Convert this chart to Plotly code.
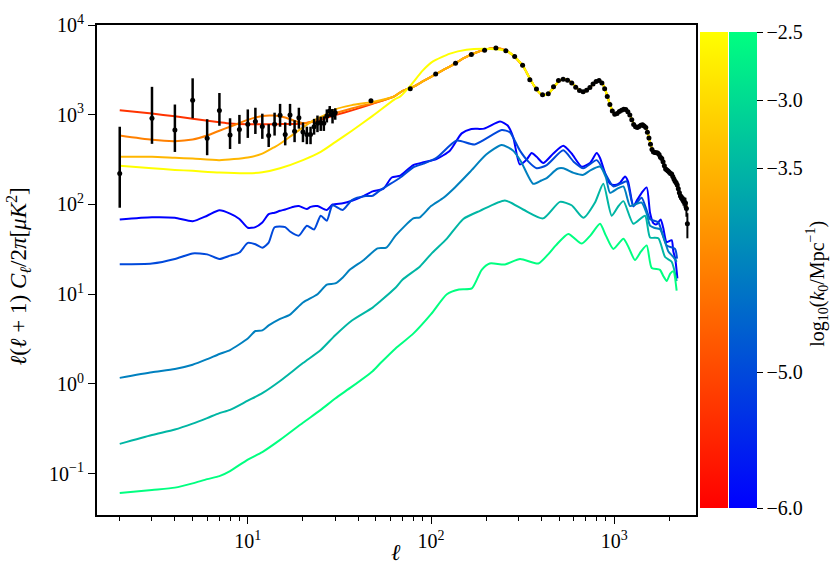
import plotly.graph_objects as go

SERIF = "Liberation Serif, Times New Roman, serif"

# ---------------- measured TT band powers ----------------
# low-l points with asymmetric errors (upper / lower bounds)
lowl_ell = [2, 3, 4, 5, 6, 7, 8, 9, 10, 11, 12, 13, 14, 15, 16, 17, 18, 19, 20,
            21, 22, 23, 24, 25, 26, 27, 28, 29, 30]
lowl_val = [221, 914, 675, 1452, 548, 1117, 595, 683, 785, 841, 741, 586, 785, 984,
            601, 996, 653, 923, 642, 601, 601, 735, 806, 820, 806, 971, 1101, 996, 1054]
lowl_hi = [735, 2046, 1300, 2547, 891, 1746, 914, 996, 1146, 1197, 1028, 785, 1054,
           1321, 820, 1321, 869, 1197, 820, 735, 735, 900, 980, 950, 960, 1146, 1250,
           1160, 1180]
lowl_lo = [92, 474, 385, 914, 354, 754, 415, 474, 552, 611, 539, 437, 586, 735, 456,
           754, 495, 700, 495, 470, 470, 600, 640, 660, 660, 820, 950, 800, 880]

# binned high-l points
bin_ell = [47, 77, 106, 136, 166, 196, 226, 256, 286, 316, 346, 376, 406, 436, 466,
           496, 526, 556, 586, 616, 646, 676, 706, 736, 766, 796, 826, 856, 886, 916,
           946, 976, 1006, 1036, 1066, 1096, 1126, 1156, 1186, 1216, 1246, 1276, 1306,
           1336, 1366, 1396, 1426, 1456, 1486, 1516, 1546, 1576, 1606, 1636, 1666,
           1696, 1726, 1756, 1786, 1816, 1846, 1876, 1906, 1936, 1966, 1996, 2026,
           2056, 2086, 2116, 2146, 2176, 2206, 2236, 2266, 2296, 2326, 2356, 2386,
           2416, 2446, 2476, 2506]
bin_val = [1436, 1945, 2838, 3743, 4697, 5248, 5560, 5150, 4467, 3550, 2450, 1930,
           1672, 1714, 2050, 2400, 2483, 2420, 2260, 2020, 1860, 1800, 1870, 2014,
           2200, 2340, 2404, 2260, 1950, 1600, 1300, 1100, 1010, 1030, 1090, 1120,
           1150, 1146, 1080, 995, 880, 780, 735, 722, 740, 765, 772, 750, 722, 640,
           550, 470, 410, 385, 380, 378, 375, 360, 335, 325, 300, 270, 248, 243, 236,
           228, 221, 219, 205, 192, 182, 175, 165, 150, 135, 124, 119, 115, 110, 106,
           104, 90, 61]
bin_err = [60, 55, 50, 50, 55, 60, 60, 55, 50, 45, 35, 30, 28, 28, 30, 32, 33, 32,
           30, 28, 25, 24, 25, 26, 28, 29, 30, 28, 25, 22, 18, 16, 15, 15, 15, 15, 15,
           15, 14, 13, 12, 11, 10, 10, 10, 10, 10, 10, 10, 9, 8, 8, 7, 7, 7, 7, 7, 7,
           7, 7, 7, 7, 7, 7, 7, 7, 8, 8, 8, 8, 9, 9, 10, 10, 10, 11, 11, 12, 13, 14,
           15, 17, 19]

# ---------------- model spectra ----------------
KMIN, KMAX = -6.0, -2.5

# common acoustic tail shared by the autumn-coloured models
tail_ell = [70, 80, 90, 100, 115, 130, 150, 175, 200, 220, 240, 260, 280, 300, 320,
            340, 360, 380, 400, 420, 440, 470, 500, 530, 560, 590, 620, 650, 680, 710,
            740, 770, 800, 830, 860, 890, 920, 950, 980, 1010, 1040, 1070, 1100, 1130,
            1160, 1190, 1220, 1250, 1280, 1310, 1340, 1370, 1400, 1430, 1460, 1490,
            1520, 1550, 1580, 1610, 1640, 1670, 1700, 1730, 1760, 1790, 1820, 1850,
            1880, 1910, 1940, 1970, 2000, 2040, 2080, 2120, 2160, 2200, 2240, 2280,
            2320, 2360, 2400, 2450, 2500]
tail_val = [1850, 2050, 2350, 2650, 3100, 3550, 4250, 4900, 5350, 5500, 5450, 5100,
            4600, 4000, 3400, 2700, 2200, 1870, 1690, 1660, 1740, 2050, 2380, 2480,
            2420, 2250, 2020, 1850, 1790, 1870, 2030, 2220, 2360, 2400, 2250, 1930,
            1570, 1280, 1090, 1005, 1030, 1090, 1125, 1150, 1145, 1080, 990, 870, 780,
            732, 722, 740, 765, 772, 748, 715, 635, 545, 465, 408, 384, 380, 377, 373,
            358, 335, 322, 298, 268, 247, 240, 234, 227, 219, 206, 190, 178, 164, 148,
            131, 119, 113, 107, 101, 90]

# low-l parts of the autumn-coloured models
aut_k0 = [-5.3, -4.25, -3.5, -2.5]
aut_ell = [
    [2, 3, 4, 5, 7, 8, 10, 12, 15, 20, 25, 30, 37, 48, 63],
    [2, 3, 4, 5, 6, 7, 8, 10, 12, 14, 16, 18, 20, 23, 28, 33, 40, 48, 63],
    [2, 3, 4, 5, 7, 10, 12, 14, 15, 18, 20, 23, 28, 30, 37, 48, 63],
    [2, 3, 4, 5, 7, 10, 12, 15, 20, 25, 30, 37, 48, 63, 68, 77, 90, 102, 127, 156,
     192, 228, 260, 287],
]
aut_val = [
    [1120, 1030, 960, 900, 825, 800, 786, 786, 786, 800, 880, 990, 1119, 1322, 1603],
    [586, 525, 508, 529, 586, 664, 735, 877, 971, 978, 930, 855, 806, 855, 995, 1100,
     1230, 1340, 1600],
    [340, 340, 331, 325, 312, 334, 369, 437, 475, 621, 722, 869, 1054, 1148, 1280,
     1391, 1603],
    [270, 253, 243, 237, 227, 223, 228, 253, 312, 385, 495, 664, 971, 1475, 1603,
     2100, 3100, 3900, 4800, 5300, 5450, 5350, 5100, 4400],
]

# winter-coloured models
win_k0 = [-6.0, -5.0, -4.25, -3.5, -2.5]
win_ell = [
    [2, 3, 4, 5, 6, 7, 8, 9, 10, 11, 12, 13, 14, 15, 16, 18, 19, 21, 22, 24, 27, 29,
     33, 37, 43, 48, 55, 61, 68, 80, 91, 107, 127, 147, 166, 195, 238, 262, 281, 305,
     332, 354, 377, 410, 465, 527, 585, 664, 737, 802, 836, 890, 948, 1010, 1075,
     1145, 1190, 1271, 1325, 1411, 1503, 1567, 1634, 1700, 1791, 1850, 1932, 2057,
     2100, 2150, 2210],
    [2, 3, 4, 5, 6, 7, 8, 9, 10, 11, 12, 13, 14, 16, 17, 19, 21, 23, 25, 27, 29, 33,
     37, 44, 48, 52, 57, 68, 80, 91, 107, 138, 173, 243, 269, 305, 340, 377, 428, 527,
     600, 678, 802, 890, 988, 1080, 1169, 1271, 1410, 1567, 1740, 1932, 2145, 2200],
    [2, 3, 4, 5, 6, 7, 8, 10, 11, 12, 13, 15, 17, 20, 24, 27, 30, 33, 36, 43, 51, 57,
     64, 80, 87, 100, 117, 135, 163, 200, 243, 280, 310, 361, 400, 428, 490, 527, 600,
     678, 740, 836, 900, 948, 1040, 1122, 1219, 1300, 1410, 1500, 1567, 1650, 1777,
     1880, 1974, 2100, 2190],
    [2, 3, 4, 5, 6, 7, 8, 10, 12, 15, 20, 25, 30, 37, 48, 53, 64, 70, 87, 100, 122,
     150, 185, 253, 318, 409, 505, 585, 678, 785, 871, 968, 1050, 1122, 1271, 1472,
     1567, 1740, 1893, 2057, 2190],
    [2, 3, 4, 5, 6, 7, 8, 10, 12, 15, 20, 25, 30, 37, 48, 53, 64, 80, 100, 122, 142,
     167, 189, 209, 253, 306, 385, 437, 480, 561, 664, 740, 836, 900, 988, 1122, 1200,
     1297, 1400, 1503, 1600, 1777, 1850, 1932, 2020, 2100, 2190],
]
win_val = [
    [68, 72, 71, 65, 75, 86, 79, 69, 55, 56, 63, 78, 81, 85, 88, 95, 96, 89, 94, 96,
     87, 100, 103, 110, 125, 140, 150, 200, 210, 275, 295, 320, 400, 620, 693, 700,
     840, 760, 560, 280, 315, 375, 340, 290, 370, 450, 370, 264, 290, 375, 330, 225,
     170, 165, 175, 205, 180, 95, 110, 135, 155, 81, 62, 60, 68, 55, 38, 40, 30, 25,
     15],
    [21.6, 22, 24.7, 28.5, 27.8, 24.7, 26.9, 29.2, 37.3, 36, 33, 37.6, 55.8, 56, 50,
     45, 58, 52.6, 74.8, 66, 98, 87, 112, 124, 125, 141, 159, 200, 260, 285, 330, 516,
     467, 676, 637, 401, 300, 253, 275, 401, 300, 253, 312, 223, 159, 170, 181, 96,
     119, 69, 63, 35, 32, 25],
    [1.17, 1.35, 1.47, 1.64, 1.89, 2.16, 2.39, 3.21, 3.89, 3.96, 4.49, 5.31, 5.93,
     8.09, 10, 12.8, 13.2, 15.4, 18.7, 24.1, 32.4, 33, 45, 70, 72, 96, 119, 155, 230,
     360, 460, 400, 300, 170, 185, 197, 250, 253, 225, 214, 240, 264, 200, 135, 150,
     159, 96, 100, 105, 80, 58, 55, 53, 40, 30, 26, 23],
    [0.215, 0.27, 0.311, 0.362, 0.417, 0.473, 0.515, 0.652, 0.79, 1.08, 1.71, 2.39,
     3.49, 5.1, 7.1, 8.4, 11.8, 14.6, 20.4, 28, 41.6, 69, 85, 111, 88, 70, 107, 98,
     71, 105, 170, 75, 95, 109, 61, 75, 43, 42, 26, 23, 14],
    [0.061, 0.066, 0.070, 0.078, 0.087, 0.094, 0.107, 0.144, 0.174, 0.238, 0.37,
     0.514, 0.69, 0.934, 1.39, 1.71, 2.49, 3.64, 6.0, 10.0, 11.3, 11.6, 18.7, 22.0,
     21.5, 24.7, 22.0, 28, 35, 47, 36.7, 45, 61, 45, 32, 41.6, 33, 24, 30, 35, 19.6,
     18.7, 16, 14, 17, 18, 11],
]

cbar_ticks = [-6.0, -5.0, -3.5, -3.0, -2.5]


def frac(k):
    return (k - KMIN) / (KMAX - KMIN)


def autumn(k):
    t = frac(k)
    return f"rgb(255,{round(255 * t)},0)"


def winter(k):
    t = frac(k)
    return f"rgb(0,{round(255 * t)},{round(255 * (1 - 0.5 * t))})"


fig = go.Figure()

for k, xs, ys in zip(win_k0, win_ell, win_val):
    fig.add_trace(go.Scatter(x=xs, y=ys, mode="lines",
                             line=dict(color=winter(k), width=2, shape="spline",
                                       smoothing=0.6),
                             showlegend=False, hoverinfo="skip"))

for k, xs, ys in zip(aut_k0, aut_ell, aut_val):
    start = xs[-1]
    tx = [l for l in tail_ell if l > start + 5]
    ty = [v for l, v in zip(tail_ell, tail_val) if l > start + 5]
    fig.add_trace(go.Scatter(x=xs + tx, y=ys + ty, mode="lines",
                             line=dict(color=autumn(k), width=2, shape="spline",
                                       smoothing=0.6),
                             showlegend=False, hoverinfo="skip"))

# data points
fig.add_trace(go.Scatter(
    x=lowl_ell, y=lowl_val, mode="markers",
    marker=dict(color="black", size=5),
    error_y=dict(type="data", symmetric=False,
                 array=[h - v for h, v in zip(lowl_hi, lowl_val)],
                 arrayminus=[v - l for l, v in zip(lowl_lo, lowl_val)],
                 color="black", thickness=2.5, width=0),
    showlegend=False))
fig.add_trace(go.Scatter(
    x=bin_ell, y=bin_val, mode="markers",
    marker=dict(color="black", size=5),
    error_y=dict(type="data", array=bin_err, color="black", thickness=2, width=0),
    showlegend=False))

# colour bars (two side-by-side scales)
common_cb = dict(thickness=28, thicknessmode="pixels", len=0.9713, lenmode="fraction",
                 y=0.5, yanchor="middle", xanchor="left", xpad=0, ypad=0,
                 outlinewidth=0)
fig.add_trace(go.Scatter(
    x=[1.0], y=[0.001], mode="markers",
    marker=dict(size=1, color=[KMIN], cmin=KMIN, cmax=KMAX,
                colorscale=[[0, "rgb(255,0,0)"], [1, "rgb(255,255,0)"]],
                showscale=True,
                colorbar=dict(x=1.0067, showticklabels=False, ticks="", **common_cb)),
    showlegend=False, hoverinfo="skip"))
fig.add_trace(go.Scatter(
    x=[1.0], y=[0.001], mode="markers",
    marker=dict(size=1, color=[KMIN], cmin=KMIN, cmax=KMAX,
                colorscale=[[0, "rgb(0,0,255)"], [1, "rgb(0,255,128)"]],
                showscale=True,
                colorbar=dict(x=1.0546, ticks="outside", ticklen=6, tickwidth=1.2,
                              tickcolor="black", tickmode="array",
                              tickvals=cbar_ticks,
                              ticktext=[f"\u2212{abs(v):.1f}" for v in cbar_ticks],
                              tickfont=dict(family=SERIF, size=20, color="black"),
                              **common_cb)),
    showlegend=False, hoverinfo="skip"))

axis_font = dict(family=SERIF, size=20, color="black")
title_font = dict(family=SERIF, size=23, color="black")
cb_title_font = dict(family=SERIF, size=20, color="black")
fig.update_layout(
    width=835, height=565,
    margin=dict(l=97, r=139, t=16, b=50),
    paper_bgcolor="white", plot_bgcolor="white",
    font=axis_font,
    xaxis=dict(type="log", range=[0.177, 3.446], showline=True, linecolor="black",
               linewidth=2, mirror=True, ticks="outside", ticklen=7, tickwidth=1.3,
               tickcolor="black", tickmode="array", tickvals=[10, 100, 1000],
               ticktext=["10<sup>1</sup>", "10<sup>2</sup>", "10<sup>3</sup>"],
               tickfont=axis_font, showgrid=False, zeroline=False,
               minor=dict(ticks="outside", ticklen=4, tickwidth=1, tickcolor="black",
                          tickmode="array",
                          tickvals=[2, 3, 4, 5, 6, 7, 8, 9, 20, 30, 40, 50, 60, 70,
                                    80, 90, 200, 300, 400, 500, 600, 700, 800, 900,
                                    2000],
                          showgrid=False)),
    yaxis=dict(type="log", range=[-1.46, 4.0], showline=True, linecolor="black",
               linewidth=2, mirror=True, ticks="outside", ticklen=7, tickwidth=1.3,
               tickcolor="black", tickmode="array",
               tickvals=[0.1, 1, 10, 100, 1000, 10000],
               ticktext=["10<sup>\u22121</sup>", "10<sup>0</sup>", "10<sup>1</sup>",
                         "10<sup>2</sup>", "10<sup>3</sup>", "10<sup>4</sup>"],
               tickfont=axis_font, showgrid=False, zeroline=False),
    annotations=[
        dict(text="<i>\u2113</i>(<i>\u2113</i> + 1) <i>C<sub>\u2113</sub></i>/2<i>\u03c0</i>[<i>\u03bcK</i><sup>2</sup>]",
             textangle=-90, x=-0.132, y=0.487, xref="paper", yref="paper",
             showarrow=False, font=title_font, xanchor="center", yanchor="middle"),
        dict(text="<i>\u2113</i>", x=0.4987, y=-0.076, xref="paper", yref="paper",
             showarrow=False, font=title_font, xanchor="center", yanchor="middle"),
        dict(text="log<sub>10</sub>(<i>k</i><sub>0</sub>/Mpc<sup>\u22121</sup>)",
             textangle=-90, x=1.203, y=0.471, xref="paper", yref="paper",
             showarrow=False, font=cb_title_font, xanchor="center", yanchor="middle"),
    ],
)

fig.write_html("out.html")
